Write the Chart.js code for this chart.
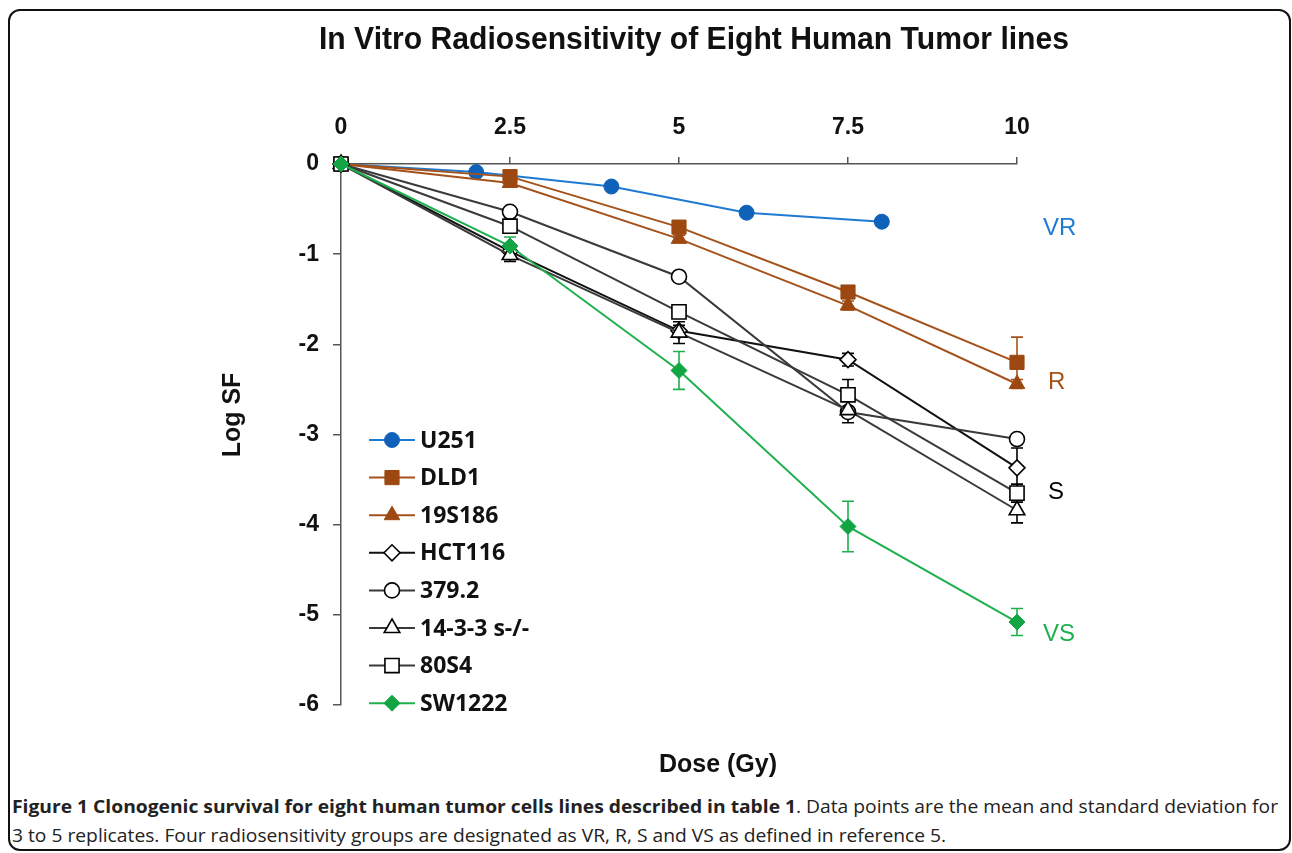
<!DOCTYPE html>
<html>
<head>
<meta charset="utf-8">
<script src="https://cdn.jsdelivr.net/npm/chart.js@4.4.0/dist/chart.umd.min.js"></script>
<style>
  html, body { margin: 0; padding: 0; background: #fff; }
  body { width: 1292px; height: 853px; position: relative; overflow: hidden; }
  #frame { position: absolute; left: 8px; top: 9px; width: 1283px; height: 842px; border: 2px solid #111; border-radius: 12px; box-sizing: border-box; }
  #wrap { position: absolute; left: 0; top: 0; width: 1292px; height: 780px; }
  #caption { position: absolute; left: 12px; top: 792px; font-family: 'Open Sans', sans-serif; font-size: 18px; line-height: 29px; color: #222; }
  #caption .l { white-space: nowrap; transform-origin: left center; }
  #caption b { font-weight: 700; }
</style>
</head>
<body>
<div id="frame"></div>
<div id="wrap"><canvas id="survival"></canvas></div>
<div id="caption">
  <div class="l"><b>Figure 1 Clonogenic survival for eight human tumor cells lines described in table 1</b>. Data points are the mean and standard deviation for</div>
  <div class="l">3 to 5 replicates. Four radiosensitivity groups are designated as VR, R, S and VS as defined in reference 5.</div>
</div>
<script>
// dose (Gy) and log surviving fraction
const doseU251 = [0, 2, 4, 6, 8];
const doseOthers = [0, 2.5, 5, 7.5, 10];

const logU251 = [0, -0.09, -0.25, -0.54, -0.64];
const logDLD1 = [0, -0.14, -0.70, -1.42, -2.20];
const log19S186 = [0, -0.21, -0.83, -1.57, -2.44];
const logHCT116 = [0, -0.97, -1.85, -2.17, -3.37];
const log3792 = [0, -0.53, -1.25, -2.75, -3.05];
const log1433 = [0, -1.01, -1.87, -2.73, -3.84];
const log80S4 = [0, -0.69, -1.64, -2.56, -3.65];
const logSW1222 = [0, -0.91, -2.29, -4.02, -5.08];

// standard deviations
const sdU251 = [0, 0, 0, 0, 0.05];
const sdDLD1 = [0, 0.03, 0.04, 0.04, 0.28];
const sd19S186 = [0, 0.03, 0.04, 0.05, 0.05];
const sdHCT116 = [0, 0.05, 0.06, 0.07, 0.22];
const sd3792 = [0, 0, 0, 0.05, 0.05];
const sd1433 = [0, 0.07, 0.12, 0.14, 0.14];
const sd80S4 = [0, 0.03, 0.05, 0.17, 0.10];
const sdSW1222 = [0, 0.10, 0.21, 0.28, 0.15];

const xTicks = [0, 2.5, 5, 7.5, 10];
const yTicks = [0, -1, -2, -3, -4, -5, -6];

const blue = '#1f7ad2';
const blueFill = '#0f62b8';
const brown = '#a4521a';
const brownFill = '#9c4810';
const green = '#1fb04e';
const greenFill = '#13a544';
const dark = '#3a3a3a';

const groupTags = [
  { text: 'VR', color: blue, value: -0.71, dx: 26 },
  { text: 'R', color: brown, value: -2.42, dx: 31 },
  { text: 'S', color: '#000', value: -3.64, dx: 31 },
  { text: 'VS', color: green, value: -5.22, dx: 26 }
];

const toPoints = (xs, ys) => xs.map((x, i) => ({ x, y: ys[i] }));

const series = (label, xs, ys, sd, line, fill, pointStyle, radius) => ({
  label,
  data: toPoints(xs, ys),
  errors: sd,
  borderColor: line,
  backgroundColor: fill,
  pointBackgroundColor: fill,
  pointBorderColor: fill === '#fff' ? '#000' : fill,
  pointBorderWidth: fill === '#fff' ? 1.6 : 1,
  pointStyle,
  pointRadius: radius,
  borderWidth: 2,
  tension: 0,
  clip: false
});

const datasets = [
  series('U251', doseU251, logU251, sdU251, blue, blueFill, 'circle', 7.5),
  series('DLD1', doseOthers, logDLD1, sdDLD1, brown, brownFill, 'rect', 10),
  series('19S186', doseOthers, log19S186, sd19S186, brown, brownFill, 'triangle', 9),
  series('HCT116', doseOthers, logHCT116, sdHCT116, '#111', '#fff', 'rectRot', 8),
  series('379.2', doseOthers, log3792, sd3792, dark, '#fff', 'circle', 7.5),
  series('14-3-3 s-/-', doseOthers, log1433, sd1433, dark, '#fff', 'triangle', 9),
  series('80S4', doseOthers, log80S4, sd80S4, dark, '#fff', 'rect', 10),
  series('SW1222', doseOthers, logSW1222, sdSW1222, green, greenFill, 'rectRot', 8)
];
// later series sit on top, as in the original
datasets.forEach((ds, i) => { ds.order = datasets.length - i; });

const errorBars = {
  id: 'errorBars',
  beforeDatasetsDraw(chart) {
    const { ctx, scales: { x, y } } = chart;
    ctx.save();
    ctx.lineWidth = 1.6;
    chart.data.datasets.forEach(ds => {
      ctx.strokeStyle = ds.borderColor === '#111' || ds.borderColor === dark ? '#000' : ds.borderColor;
      ds.data.forEach((p, j) => {
        const e = ds.errors[j];
        if (!e) return;
        const px = x.getPixelForValue(p.x);
        const top = y.getPixelForValue(p.y + e);
        const bot = y.getPixelForValue(p.y - e);
        ctx.beginPath();
        ctx.moveTo(px, top); ctx.lineTo(px, bot);
        ctx.moveTo(px - 6, top); ctx.lineTo(px + 6, top);
        ctx.moveTo(px - 6, bot); ctx.lineTo(px + 6, bot);
        ctx.stroke();
      });
    });
    ctx.restore();
  }
};

const marker = (ctx, ds, cx, cy) => {
  ctx.fillStyle = ds.pointBackgroundColor;
  ctx.strokeStyle = ds.pointBorderColor;
  ctx.lineWidth = ds.pointBorderWidth;
  Chart.helpers.drawPoint(ctx, { pointStyle: ds.pointStyle, radius: ds.pointRadius, rotation: 0, borderWidth: ds.pointBorderWidth }, cx, cy);
};

const decorations = {
  id: 'decorations',
  afterDraw(chart) {
    const { ctx, scales: { x, y } } = chart;
    ctx.save();

    // title, squeezed to the original width
    ctx.font = 'bold 31px "Liberation Sans", Arial, sans-serif';
    ctx.fillStyle = '#111';
    ctx.textAlign = 'center';
    ctx.textBaseline = 'middle';
    const title = 'In Vitro Radiosensitivity of Eight Human Tumor lines';
    const sx = Math.min(1, 750 / ctx.measureText(title).width);
    ctx.save();
    ctx.translate(694, 40);
    ctx.scale(sx, 1);
    ctx.fillText(title, 0, 0);
    ctx.restore();

    // axis titles
    ctx.font = 'bold 25px "Liberation Sans", Arial, sans-serif';
    ctx.fillText('Dose (Gy)', 718, 765);
    ctx.save();
    ctx.translate(233, 415);
    ctx.rotate(-Math.PI / 2);
    ctx.fillText('Log SF', 0, 0);
    ctx.restore();

    // group tags on the right
    ctx.font = '24px "Liberation Sans", Arial, sans-serif';
    ctx.textAlign = 'left';
    groupTags.forEach(t => {
      ctx.fillStyle = t.color;
      ctx.fillText(t.text, x.getPixelForValue(10) + t.dx, y.getPixelForValue(t.value));
    });

    // legend inside the plot
    chart.data.datasets.forEach((ds, i) => {
      const rowY = 440 + i * 37.6;
      ctx.strokeStyle = ds.borderColor;
      ctx.lineWidth = 2;
      ctx.beginPath();
      ctx.moveTo(369, rowY); ctx.lineTo(415, rowY);
      ctx.stroke();
      marker(ctx, ds, 392, rowY);
      ctx.fillStyle = '#111';
      ctx.font = 'bold 23px "Open Sans", sans-serif';
      ctx.textAlign = 'left';
      ctx.textBaseline = 'middle';
      ctx.fillText(ds.label, 420, rowY + 1);
    });
    ctx.restore();
  }
};

const tickFont = { family: 'Liberation Sans, Arial, sans-serif', size: 23, weight: 'bold' };

new Chart(document.getElementById('survival'), {
  type: 'line',
  data: { datasets },
  options: {
    animation: false,
    responsive: true,
    maintainAspectRatio: false,
    layout: { padding: { left: 0, top: 0, right: 275, bottom: 75 } },
    plugins: {
      legend: { display: false },
      tooltip: { enabled: false },
      title: { display: false }
    },
    scales: {
      x: {
        type: 'linear',
        position: 'top',
        min: 0,
        max: 10,
        afterBuildTicks: s => { s.ticks = xTicks.map(value => ({ value })); },
        afterFit: s => { s.height = 164; },
        ticks: { font: tickFont, color: '#111', padding: 16 },
        grid: { drawOnChartArea: false, tickLength: 7, color: '#555', lineWidth: 1.5 },
        border: { color: '#555', width: 1.5 }
      },
      y: {
        type: 'linear',
        position: 'left',
        min: -6,
        max: 0,
        afterBuildTicks: s => { s.ticks = yTicks.map(value => ({ value })); },
        afterFit: s => { s.width = 341; },
        ticks: { font: tickFont, color: '#111', padding: 14 },
        grid: { drawOnChartArea: false, tickLength: 8, color: '#555', lineWidth: 1.5 },
        border: { color: '#555', width: 1.5 }
      }
    }
  },
  plugins: [errorBars, decorations]
});

// fit caption lines to the original text width
const lines = document.querySelectorAll('#caption .l');
const k = 1266 / lines[0].scrollWidth;
lines.forEach(l => { l.style.transform = `scaleX(${k})`; });
</script>
</body>
</html>
